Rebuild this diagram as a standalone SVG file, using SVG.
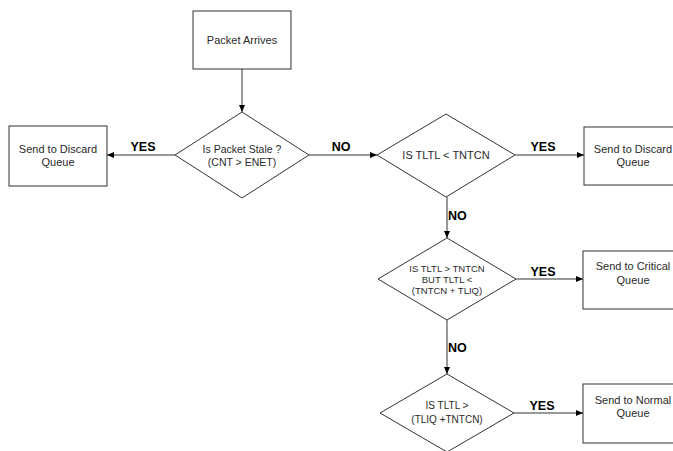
<svg xmlns="http://www.w3.org/2000/svg" width="673" height="451" viewBox="0 0 673 451">
<defs>
<style>
.box{fill:#fff;stroke:#333;stroke-width:1}
.t{font-family:"Liberation Sans",Arial,sans-serif;font-size:11px;fill:#2a2a2a;text-anchor:middle}
.s{font-size:9.5px}
.lbl{font-family:"Liberation Sans",Arial,sans-serif;font-size:12.5px;font-weight:bold;fill:#000}
.c{stroke:#333;stroke-width:1;fill:none;marker-end:url(#ah)}
</style>
<marker id="ah" markerWidth="7" markerHeight="6" refX="7" refY="3" orient="auto" markerUnits="userSpaceOnUse">
<path d="M0,0 L7,3 L0,6 Z" fill="#000"/>
</marker>
</defs>
<rect width="673" height="451" fill="#fff"/>
<g id="connectors">
<line class="c" x1="242" y1="69" x2="242" y2="112"/>
<line class="c" x1="175" y1="155" x2="107" y2="155"/>
<line class="c" x1="309" y1="155" x2="377" y2="155"/>
<line class="c" x1="515" y1="155" x2="584" y2="155"/>
<line class="c" x1="447" y1="197" x2="447" y2="238"/>
<line class="c" x1="516" y1="279" x2="583" y2="279"/>
<line class="c" x1="447" y1="320" x2="447" y2="374"/>
<line class="c" x1="514" y1="413" x2="583" y2="413"/>
<text class="lbl" x="143" y="151" text-anchor="middle">YES</text>
<text class="lbl" x="341" y="151" text-anchor="middle">NO</text>
<text class="lbl" x="543" y="151" text-anchor="middle">YES</text>
<text class="lbl" x="448" y="220">NO</text>
<text class="lbl" x="543" y="276" text-anchor="middle">YES</text>
<text class="lbl" x="448" y="352">NO</text>
<text class="lbl" x="542" y="410" text-anchor="middle">YES</text>
</g>
<g id="packet-arrives">
<rect class="box" x="193" y="11" width="98" height="58"/>
<text class="t" x="242" y="44">Packet Arrives</text>
</g>
<g id="is-stale">
<polygon class="box" points="242,112 309,155 242,198 175,155"/>
<text class="t" x="242" y="153" style="font-size:10.5px">Is Packet Stale ?</text>
<text class="t" x="242" y="166" style="font-size:10.5px">(CNT &gt; ENET)</text>
</g>
<g id="discard-left">
<rect class="box" x="9" y="126" width="98" height="60"/>
<text class="t" x="58" y="153">Send to Discard</text>
<text class="t" x="58" y="166">Queue</text>
</g>
<g id="tltl-lt-tntcn">
<polygon class="box" points="446,114 515,155 446,197 377,155"/>
<text class="t" x="446" y="159">IS TLTL &lt; TNTCN</text>
</g>
<g id="discard-right">
<rect class="box" x="584" y="127" width="98" height="58"/>
<text class="t" x="633" y="153">Send to Discard</text>
<text class="t" x="633" y="166">Queue</text>
</g>
<g id="tltl-between">
<polygon class="box" points="447,238 516,279 447,320 378,279"/>
<text class="t s" x="447" y="272">IS TLTL &gt; TNTCN</text>
<text class="t s" x="447" y="283">BUT TLTL &lt;</text>
<text class="t s" x="447" y="294">(TNTCN + TLIQ)</text>
</g>
<g id="critical">
<rect class="box" x="583" y="251" width="98" height="58"/>
<text class="t" x="633" y="270">Send to Critical</text>
<text class="t" x="633" y="284">Queue</text>
</g>
<g id="tltl-gt">
<polygon class="box" points="447,374 514,413 447,452 380,413"/>
<text class="t" x="447" y="409" style="font-size:10px">IS TLTL &gt;</text>
<text class="t" x="447" y="423" style="font-size:10px">(TLIQ +TNTCN)</text>
</g>
<g id="normal">
<rect class="box" x="583" y="384" width="98" height="59"/>
<text class="t" x="633" y="404">Send to Normal</text>
<text class="t" x="633" y="417">Queue</text>
</g>
</svg>
